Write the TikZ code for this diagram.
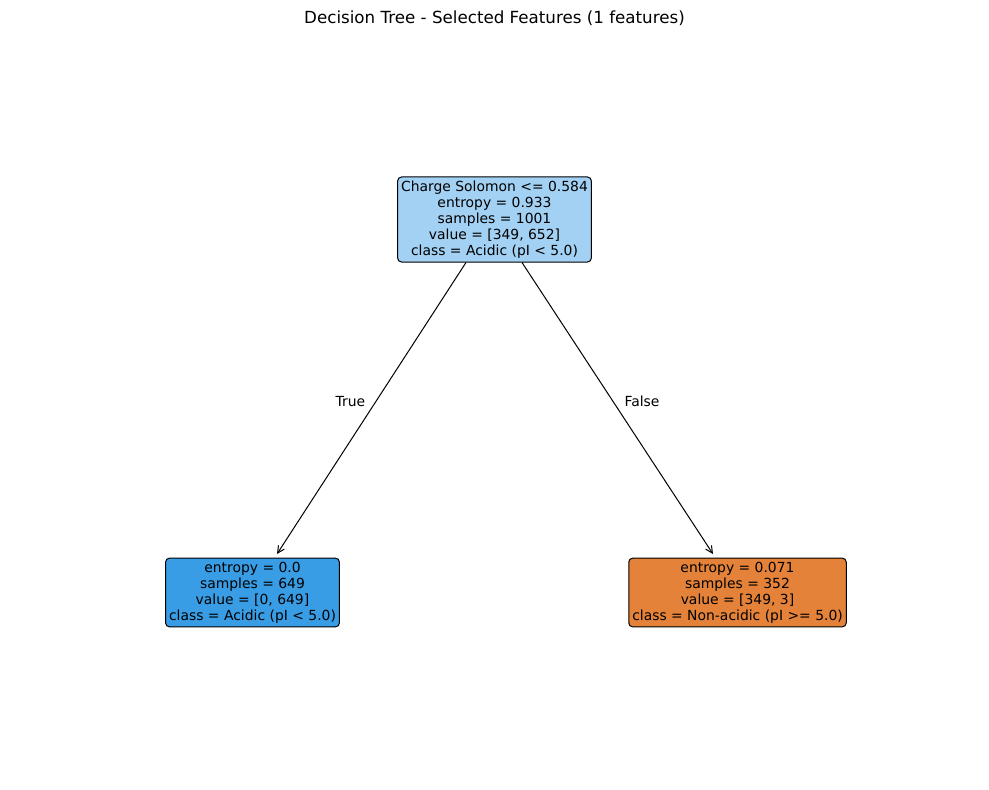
\documentclass[tikz,border=0pt]{standalone}
\usepackage{fontspec}
\setmainfont{DejaVu Sans}
\usetikzlibrary{arrows.meta}
\definecolor{rootc}{HTML}{A3D1F3}
\definecolor{leftc}{HTML}{399DE5}
\definecolor{rightc}{HTML}{E5823A}
\tikzset{
  treenode/.style={draw=black, line width=1pt, rounded corners=4pt, align=center,
    inner xsep=3.5pt, inner ysep=3.8pt, font=\fontsize{13.9}{16}\selectfont},
  edge/.style={draw=black, line width=1pt, -{Straight Barb[length=7pt,width=7pt]}},
  edgelabel/.style={font=\fontsize{13.9}{16}\selectfont}
}
\begin{document}
\begin{tikzpicture}[x=1pt,y=-1pt]
\useasboundingbox[fill=white] (0,0) rectangle (989,790);
\node[font=\fontsize{16.7}{20}\selectfont] (title) at (494.5,18) {Decision Tree - Selected Features (1 features)};
\node[treenode, fill=rootc] (root) at (494.5,219.5) {Charge Solomon <= 0.584\\entropy = 0.933\\samples = 1001\\value = [349, 652]\\class = Acidic (pI < 5.0)};
\node[treenode, fill=leftc] (left) at (252.5,592.5) {entropy = 0.0\\samples = 649\\value = [0, 649]\\class = Acidic (pI < 5.0)};
\node[treenode, fill=rightc] (right) at (737.5,592.5) {entropy = 0.071\\samples = 352\\value = [349, 3]\\class = Non-acidic (pI >= 5.0)};
\coordinate (rl) at (466,262.5);
\coordinate (rr) at (522,262.5);
\coordinate (lt) at (277,554);
\coordinate (rt) at (713,554);
\draw[edge] (rl) -- (lt);
\draw[edge] (rr) -- (rt);
\node[edgelabel] (truelab) at (350.5,401.5) {True};
\node[edgelabel] (falselab) at (642,401.5) {False};
\end{tikzpicture}
\end{document}
